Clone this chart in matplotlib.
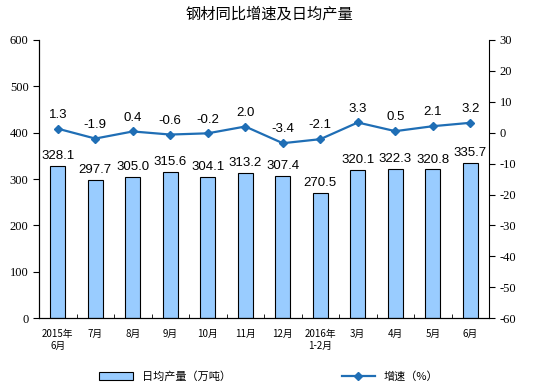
import numpy as np
import matplotlib
matplotlib.use('Agg')
from matplotlib import pyplot as plt

plt.rcParams['font.family'] = ['Liberation Sans', 'Noto Sans CJK SC', 'DejaVu Sans']
plt.rcParams['axes.unicode_minus'] = False

# data
months = ['2015年\n6月', '7月', '8月', '9月', '10月', '11月', '12月', '2016年\n1-2月',
          '3月', '4月', '5月', '6月']
output = [328.1, 297.7, 305.0, 315.6, 304.1, 313.2, 307.4, 270.5, 320.1, 322.3, 320.8, 335.7]
growth = [1.3, -1.9, 0.4, -0.6, -0.2, 2.0, -3.4, -2.1, 3.3, 0.5, 2.1, 3.2]

cjk = ['Noto Sans CJK SC', 'DejaVu Sans']
x = np.arange(len(months))

fig = plt.figure(figsize=(5.38, 3.88), dpi=100)
ax = fig.add_axes([0.0725, 0.18, 0.8365, 0.717])
bars = ax.bar(x, output, width=0.4, color='#99ccff', edgecolor='black', linewidth=0.8,
              label='日均产量（万吨）')
ax.set_ylim(0, 600)
ax.set_xlim(-0.5, len(months) - 0.5)
ax.set_yticks(range(0, 601, 100))
for i, v in enumerate(output):
    ax.text(i, v + 8, f'{v:.1f}', ha='center', va='bottom', fontsize=9.5)

ax.set_xticks(x)
ax.set_xticklabels(months, family=cjk, fontsize=7)
ax.set_xticks(np.arange(-0.5, len(months), 1), minor=True)
ax.tick_params(axis='x', which='major', length=0, pad=8)
ax.tick_params(axis='x', which='minor', length=3, direction='in')
ax.tick_params(axis='y', length=4, labelsize=9)
for lab in ax.get_yticklabels():
    lab.set_family('Liberation Serif')
ax.spines['top'].set_visible(False)
ax.spines['right'].set_visible(False)

ax2 = ax.twinx()
ln, = ax2.plot(x, growth, color='#1f6eb5', linewidth=1.6, marker='D', markersize=4.5,
               label='增速（%）')
ax2.set_ylim(-60, 30)
ax2.set_yticks(range(-60, 31, 10))
ax2.tick_params(axis='y', length=4, labelsize=9)
for lab in ax2.get_yticklabels():
    lab.set_family('Liberation Serif')
ax2.spines['top'].set_visible(False)
for i, v in enumerate(growth):
    ax2.text(i, v + 2.5, f'{v:.1f}', ha='center', va='bottom', fontsize=9.5)

fig.suptitle('钢材同比增速及日均产量', family=cjk, fontsize=11, y=0.985)

fig.legend([bars, ln], ['日均产量（万吨）', '增速（%）'], loc='lower center',
           bbox_to_anchor=(0.5, -0.01), ncol=2, frameon=False, columnspacing=10,
           prop={'family': cjk, 'size': 8}, handlelength=3)

fig.savefig('out.png', dpi=100)
